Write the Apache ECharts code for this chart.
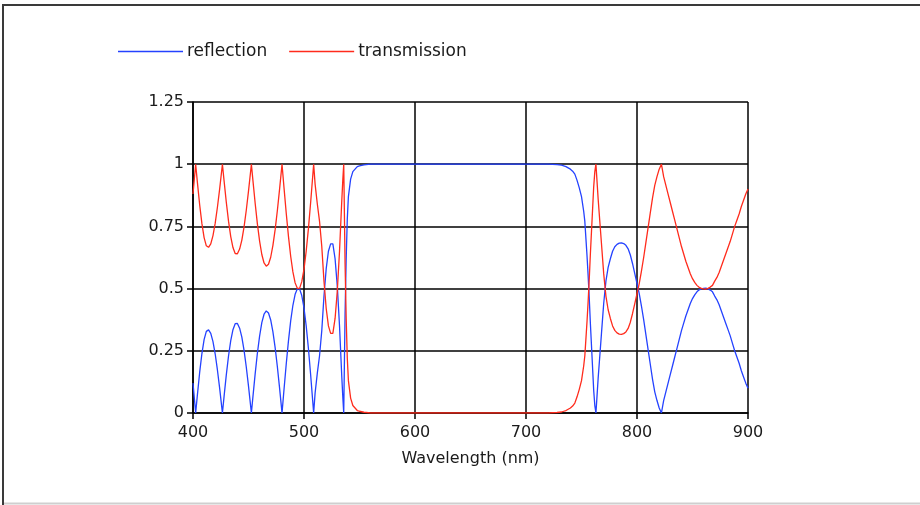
<!DOCTYPE html>
<html>
<head>
<meta charset="utf-8">
<script src="https://cdn.jsdelivr.net/npm/echarts@6/dist/echarts.min.js"></script>
<style>
  html, body { margin: 0; padding: 0; background: #ffffff; }
  #chart { width: 920px; height: 505px; }
</style>
</head>
<body>
<div id="chart"></div>
<script>
// Wavelength samples (nm); denser where the spectrum changes quickly
const wavelength = [
  400, 402.4, 404, 406, 408, 410, 412, 414, 416, 418, 420, 422, 424, 426.5, 428, 430,
  432, 434, 436, 438, 440, 442, 444, 446, 448, 450, 452.6, 454, 456, 458, 460, 462,
  464, 466, 468, 470, 472, 474, 476, 478, 480.2, 482, 484, 486, 488, 490, 492, 494,
  496, 498, 500, 502, 504, 506, 508.7, 510, 512, 514, 516, 518, 520, 522, 524, 526,
  528, 530, 532, 534, 535, 535.8, 537, 538, 539, 540, 542, 544, 546, 548, 550, 554,
  558, 560, 580, 600, 620, 640, 660, 680, 700, 720, 724, 728, 732, 734, 736, 738,
  740, 742, 744, 746, 748, 750, 752, 753, 754, 755, 756, 757, 758, 759, 760, 761,
  762, 763, 764, 765, 766, 768, 770, 772, 774, 776, 778, 780, 782, 784, 786, 788,
  790, 792, 794, 796, 798, 800, 802, 804, 806, 808, 810, 812, 814, 816, 818, 820,
  822, 824, 826, 828, 830, 832, 834, 836, 838, 840, 842, 844, 846, 848, 850, 852,
  854, 856, 858, 860, 862, 864, 866, 868, 870, 872, 874, 876, 878, 880, 882, 884,
  886, 888, 890, 892, 894, 896, 898, 900
];

// Reflectance at each wavelength
const reflection = [
  0.12, 0.0, 0.075, 0.163, 0.238, 0.295, 0.328, 0.334, 0.320, 0.287, 0.237, 0.173, 0.100, 0.0, 0.067, 0.153,
  0.229, 0.291, 0.335, 0.359, 0.360, 0.341, 0.305, 0.252, 0.185, 0.108, 0.0, 0.066, 0.157, 0.240, 0.309, 0.363,
  0.397, 0.410, 0.402, 0.374, 0.326, 0.263, 0.186, 0.100, 0.0, 0.095, 0.197, 0.290, 0.370, 0.433, 0.477, 0.499,
  0.499, 0.472, 0.422, 0.349, 0.258, 0.153, 0.0, 0.08, 0.16, 0.23, 0.33, 0.47, 0.58, 0.65, 0.68, 0.68,
  0.62, 0.51, 0.35, 0.15, 0.06, 0.0, 0.40, 0.62, 0.78, 0.87, 0.94, 0.97, 0.98, 0.99, 0.993, 0.997,
  0.999, 1.0, 1.0, 1.0, 1.0, 1.0, 1.0, 1.0, 1.0, 1.0, 0.999, 0.998, 0.996, 0.993, 0.99, 0.985,
  0.98, 0.972, 0.96, 0.935, 0.905, 0.87, 0.81, 0.77, 0.70, 0.63, 0.55, 0.46, 0.36, 0.27, 0.18, 0.09,
  0.03, 0.0, 0.07, 0.14, 0.20, 0.32, 0.44, 0.53, 0.585, 0.62, 0.65, 0.668, 0.678, 0.683, 0.684, 0.681,
  0.674, 0.66, 0.635, 0.60, 0.56, 0.52, 0.48, 0.43, 0.375, 0.315, 0.255, 0.195, 0.135, 0.085, 0.05, 0.02,
  0.0, 0.05, 0.085, 0.12, 0.155, 0.19, 0.225, 0.26, 0.295, 0.33, 0.36, 0.39, 0.415, 0.44, 0.46, 0.475,
  0.487, 0.495, 0.499, 0.501, 0.502, 0.499, 0.494, 0.487, 0.47, 0.455, 0.435, 0.41, 0.385, 0.36, 0.335, 0.31,
  0.28, 0.25, 0.225, 0.20, 0.17, 0.145, 0.12, 0.10
];

// Transmittance at each wavelength
const transmission = [
  0.88, 1.0, 0.925, 0.837, 0.762, 0.705, 0.672, 0.666, 0.680, 0.713, 0.763, 0.827, 0.900, 1.0, 0.933, 0.847,
  0.771, 0.709, 0.665, 0.641, 0.640, 0.659, 0.695, 0.748, 0.815, 0.892, 1.0, 0.934, 0.843, 0.760, 0.691, 0.637,
  0.603, 0.590, 0.598, 0.626, 0.674, 0.737, 0.814, 0.900, 1.0, 0.905, 0.803, 0.710, 0.630, 0.567, 0.523, 0.501,
  0.501, 0.528, 0.578, 0.651, 0.742, 0.847, 1.0, 0.92, 0.84, 0.77, 0.67, 0.53, 0.42, 0.35, 0.32, 0.32,
  0.38, 0.49, 0.65, 0.85, 0.94, 1.0, 0.60, 0.38, 0.22, 0.13, 0.06, 0.03, 0.02, 0.01, 0.007, 0.003,
  0.001, 0.0, 0.0, 0.0, 0.0, 0.0, 0.0, 0.0, 0.0, 0.0, 0.001, 0.002, 0.004, 0.007, 0.01, 0.015,
  0.02, 0.028, 0.04, 0.065, 0.095, 0.13, 0.19, 0.23, 0.30, 0.37, 0.45, 0.54, 0.64, 0.73, 0.82, 0.91,
  0.97, 1.0, 0.93, 0.86, 0.80, 0.68, 0.56, 0.47, 0.415, 0.38, 0.35, 0.332, 0.322, 0.317, 0.316, 0.319,
  0.326, 0.34, 0.365, 0.40, 0.44, 0.48, 0.52, 0.57, 0.625, 0.685, 0.745, 0.805, 0.865, 0.915, 0.95, 0.98,
  1.0, 0.95, 0.915, 0.88, 0.845, 0.81, 0.775, 0.74, 0.705, 0.67, 0.64, 0.61, 0.585, 0.56, 0.54, 0.525,
  0.513, 0.505, 0.501, 0.499, 0.498, 0.501, 0.506, 0.513, 0.53, 0.545, 0.565, 0.59, 0.615, 0.64, 0.665, 0.69,
  0.72, 0.75, 0.775, 0.80, 0.83, 0.855, 0.88, 0.90
];

// Axis ranges and tick steps
const xRange = [400, 900];
const xStep = 100;
const yRange = [0, 1.25];
const yStep = 0.25;

const FONT = '"DejaVu Sans", sans-serif';
const BLUE = '#2442ff';
const RED = '#ff2b1c';

const pairs = (ys) => wavelength.map((w, i) => [w, ys[i]]);

const chart = echarts.init(document.getElementById('chart'), null, { renderer: 'canvas' });

chart.setOption({
  animation: false,
  backgroundColor: '#ffffff',
  graphic: [
    // page frame
    { type: 'line', shape: { x1: 3, y1: 5, x2: 920, y2: 5 }, style: { stroke: '#3a3a3a', lineWidth: 2 } },
    { type: 'line', shape: { x1: 3, y1: 4, x2: 3, y2: 505 }, style: { stroke: '#3a3a3a', lineWidth: 2 } },
    { type: 'line', shape: { x1: 4, y1: 503.5, x2: 920, y2: 503.5 }, style: { stroke: '#cfcfcf', lineWidth: 2 } }
  ],
  legend: {
    left: 113,
    top: 38,
    icon: 'rect',
    itemWidth: 65,
    itemHeight: 1.5,
    itemGap: 22,
    textStyle: { fontFamily: FONT, fontSize: 17, color: '#1a1a1a', padding: [0, 0, 0, -1] },
    data: ['reflection', 'transmission']
  },
  grid: { left: 193, right: 172, top: 102, bottom: 92, containLabel: false },
  xAxis: {
    type: 'value',
    min: xRange[0],
    max: xRange[1],
    interval: xStep,
    name: 'Wavelength (nm)',
    nameLocation: 'middle',
    nameGap: 38,
    nameTextStyle: { fontFamily: FONT, fontSize: 16, color: '#1a1a1a' },
    axisLine: { show: true, lineStyle: { color: '#000', width: 1.5 } },
    axisTick: { show: true, inside: false, length: 6, lineStyle: { color: '#000', width: 1.5 } },
    axisLabel: { fontFamily: FONT, fontSize: 16, color: '#1a1a1a', margin: 12 },
    splitLine: { show: true, lineStyle: { color: '#000', width: 1.5 } }
  },
  yAxis: {
    type: 'value',
    min: yRange[0],
    max: yRange[1],
    interval: yStep,
    axisLine: { show: true, lineStyle: { color: '#000', width: 1.5 } },
    axisTick: { show: true, inside: false, length: 6, lineStyle: { color: '#000', width: 1.5 } },
    axisLabel: { fontFamily: FONT, fontSize: 16, color: '#1a1a1a', margin: 9 },
    splitLine: { show: true, lineStyle: { color: '#000', width: 1.5 } }
  },
  series: [
    {
      name: 'reflection',
      type: 'line',
      data: pairs(reflection),
      showSymbol: false,
      symbol: 'none',
      color: BLUE,
      lineStyle: { color: BLUE, width: 1.3 },
      z: 3
    },
    {
      name: 'transmission',
      type: 'line',
      data: pairs(transmission),
      showSymbol: false,
      symbol: 'none',
      color: RED,
      lineStyle: { color: RED, width: 1.3 },
      z: 4
    }
  ]
});
</script>
</body>
</html>
